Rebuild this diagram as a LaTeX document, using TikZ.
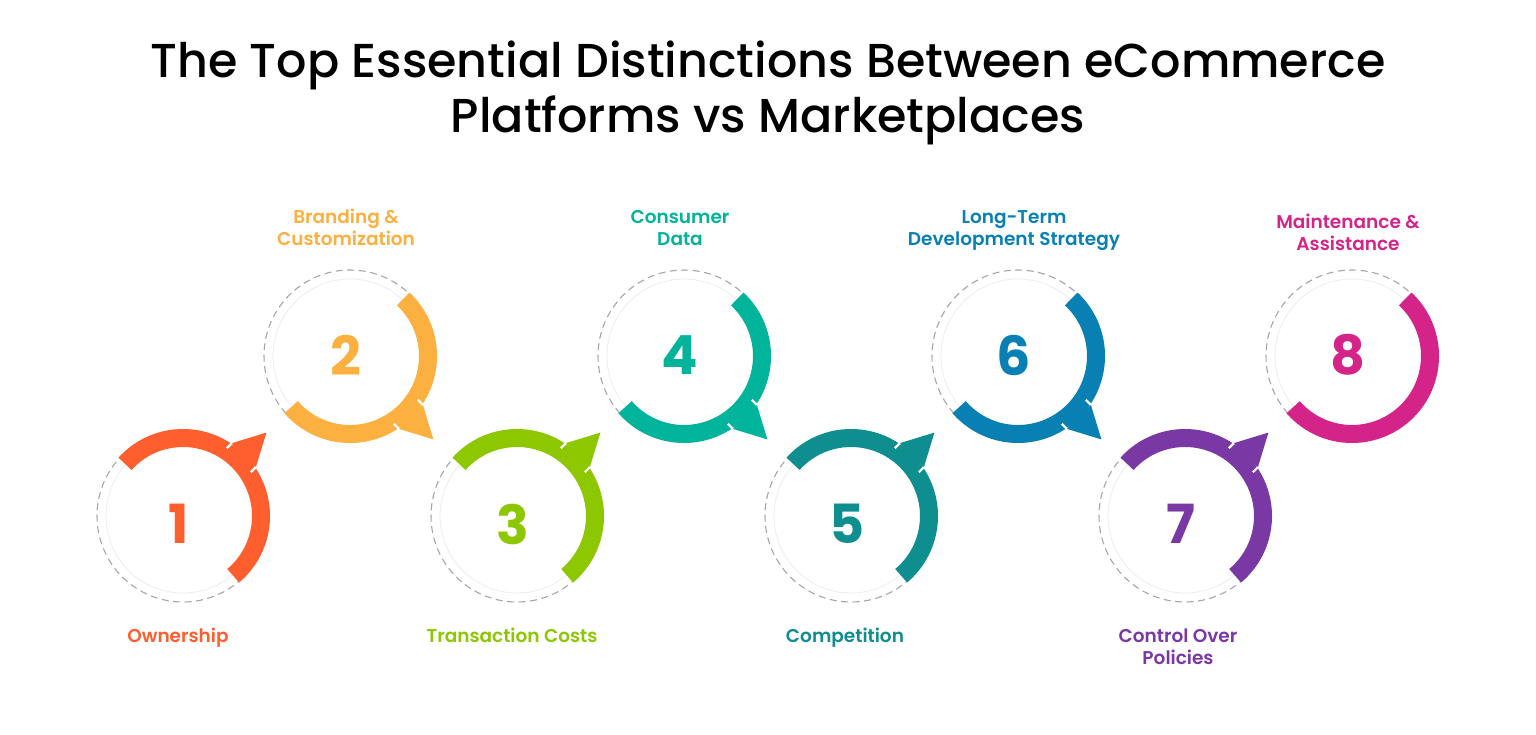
\documentclass[tikz,border=0pt]{standalone}
\usepackage{fontspec}
\setmainfont{Poppins}
\newfontfamily\titlefont{Poppins Medium}
\newfontfamily\labelfont{Poppins SemiBold}
\newfontfamily\digitfont{Poppins Bold}
\usetikzlibrary{calc}
\definecolor{cOne}{HTML}{FF5F2F}
\definecolor{cTwo}{HTML}{FBB040}
\definecolor{cThree}{HTML}{8CC700}
\definecolor{cFour}{HTML}{00B39B}
\definecolor{cFive}{HTML}{0E8E8E}
\definecolor{cSix}{HTML}{0880B4}
\definecolor{cSeven}{HTML}{7A38A5}
\definecolor{cEight}{HTML}{D42489}
\definecolor{guidegray}{HTML}{A6A6A6}
\begin{document}
\begin{tikzpicture}[x=1pt,y=-1pt,
  guide/.style={draw=guidegray, dash pattern=on 7pt off 4.5pt, line width=1.1pt},
  faint/.style={draw=black!7, line width=0.8pt},
  band/.style={line width=18pt},
  notch/.style={draw=white, line width=2.2pt},
  lbl/.style={font=\labelfont\fontsize{18.5}{22}\selectfont, align=center, inner sep=0, anchor=base},
  num/.style={font=\digitfont\fontsize{54}{54}\selectfont, inner sep=0},
  ttl/.style={font=\titlefont\fontsize{47.6}{55}\selectfont, align=center, inner sep=0, text=black, anchor=base}
]
\useasboundingbox (0,0) rectangle (1536,734);
\fill[white] (0,0) rectangle (1536,734);

\node[ttl] (title) at (768,132) {The Top Essential Distinctions Between eCommerce\\Platforms vs Marketplaces};

\foreach \i/\x/\y/\col/\sa/\ea/\aa/\dy in {
  1/183/516/cOne/-138/50/-45/524,
  2/350/356/cTwo/-47/139/45/355,
  3/517/516/cThree/-138/50/-45/524,
  4/684/356/cFour/-47/139/45/355,
  5/851/516/cFive/-138/50/-45/524,
  6/1018/356/cSix/-47/139/45/355,
  7/1185/516/cSeven/-138/50/-45/524,
  8/1352/356/cEight/-47/139/45/355}{
  \coordinate (c\i) at (\x,\y);
  \draw[faint] (c\i) circle[radius=77];
  \draw[guide] (c\i) circle[radius=86];
  \draw[band,\col] ($(c\i)+(\sa:78)$) arc[start angle=\sa, end angle=\ea, radius=78];
  \ifnum\i<8
    \coordinate (a\i) at ($(c\i)+(\aa:86)+(\aa+90:17)$);
    \coordinate (b\i) at ($(c\i)+(\aa:86)+(\aa-90:17)$);
    \coordinate (t\i) at ($(c\i)+(\aa:118)$);
    \fill[\col] (t\i) -- (a\i) -- (b\i) -- cycle;
    \draw[notch] (a\i) -- ($(a\i)+(\aa+180:7)$);
    \draw[notch] (b\i) -- ($(b\i)+(\aa+180:7)$);
  \fi
  \node[num, text=\col] (n\i) at (\x-4,\dy) {\i};
}

\node[lbl, text=cOne]   (l1) at (178,642) {Ownership};
\node[lbl, text=cTwo]   (l2) at (346,245) {Branding \&\\Customization};
\node[lbl, text=cThree] (l3) at (512,642) {Transaction Costs};
\node[lbl, text=cFour]  (l4) at (680,245) {Consumer\\Data};
\node[lbl, text=cFive]  (l5) at (845,642) {Competition};
\node[lbl, text=cSix]   (l6) at (1014,245) {Long-Term\\Development Strategy};
\node[lbl, text=cSeven] (l7) at (1178,664) {Control Over\\Policies};
\node[lbl, text=cEight] (l8) at (1348,250) {Maintenance \&\\Assistance};
\end{tikzpicture}
\end{document}
